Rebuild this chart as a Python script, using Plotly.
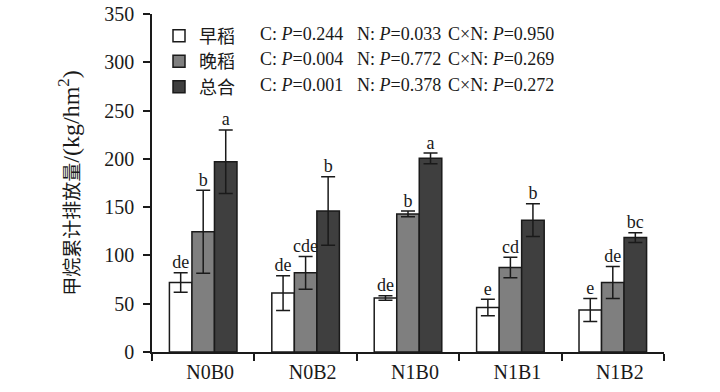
import plotly.graph_objects as go

# ---------------- data ----------------
categories = ["N0B0", "N0B2", "N1B0", "N1B1", "N1B2"]
series_names = ["早稻", "晚稻", "总合"]

early = [72, 61, 56, 46, 43.5]
early_err = [10, 18, 2.3, 8.5, 12]
early_letters = ["de", "de", "de", "e", "e"]

late = [124.5, 82, 143, 87.5, 72]
late_err = [43, 17, 3, 10.5, 16.5]
late_letters = ["b", "cde", "b", "cd", "de"]

total = [197, 146, 200.5, 136.5, 118.5]
total_err = [33, 35.5, 5.5, 17, 5]
total_letters = ["a", "b", "a", "b", "bc"]

p_C = ["0.244", "0.004", "0.001"]
p_N = ["0.033", "0.772", "0.378"]
p_CN = ["0.950", "0.269", "0.272"]

y_ticks = [0, 50, 100, 150, 200, 250, 300, 350]

# ---------------- styling ----------------
W, H = 720, 392
fills = ["#ffffff", "#7f7f7f", "#3f3f3f"]
edge = "#1a1a1a"
txt = "#1a1a1a"
serif = "Liberation Serif, Times New Roman, Noto Sans CJK SC"
bar_w = 0.22

def px_x(p):
    return p / W

def px_y(p):
    return 1 - p / H

values = [early, late, total]
errors = [early_err, late_err, total_err]
letters = [early_letters, late_letters, total_letters]

fig = go.Figure()
legend_ids = ["legend", "legend2", "legend3"]
for k in range(3):
    xs = [i + (k - 1) * bar_w for i in range(len(categories))]
    fig.add_trace(go.Bar(
        x=xs, y=values[k], width=bar_w, name=series_names[k],
        marker=dict(color=fills[k], line=dict(color=edge, width=1.5)),
        error_y=dict(type="data", array=errors[k], color=edge, thickness=1.5, width=7),
        legend=legend_ids[k], showlegend=True,
    ))
for k in range(3):
    xs = [i + (k - 1) * bar_w for i in range(len(categories))]
    tops = [v + e for v, e in zip(values[k], errors[k])]
    fig.add_trace(go.Scatter(
        x=xs, y=tops, mode="text", text=letters[k], textposition="top center",
        textfont=dict(family=serif, size=18, color=txt),
        showlegend=False, hoverinfo="skip", cliponaxis=False,
    ))

fig.update_layout(
    template="none",
    width=W, height=H, autosize=False,
    margin=dict(l=0, r=0, t=0, b=0, pad=0),
    paper_bgcolor="white", plot_bgcolor="rgba(0,0,0,0)",
    showlegend=True,
    font=dict(family=serif, size=18, color=txt),
    xaxis=dict(
        domain=[px_x(152), px_x(664)], range=[-0.5, 4.5], automargin=False,
        tickmode="array", tickvals=list(range(len(categories))), ticktext=categories,
        ticks="", ticklabelshift=7, ticklabelstandoff=1,
        tickfont=dict(family=serif, size=20, color=txt),
        showline=True, linecolor=edge, linewidth=1.5, mirror=False,
        showgrid=False, zeroline=False,
        minor=dict(tickmode="linear", tick0=-0.5, dtick=1, ticks="outside",
                   ticklen=7, tickwidth=1.5, tickcolor=edge, showgrid=False),
    ),
    yaxis=dict(
        domain=[px_y(352), px_y(14)], range=[0, 350], automargin=False,
        tickmode="array", tickvals=y_ticks,
        ticks="outside", ticklen=7, tickwidth=1.5, tickcolor=edge,
        ticklabelstandoff=5,
        tickfont=dict(family=serif, size=20, color=txt),
        showline=True, linecolor=edge, linewidth=1.5, mirror=False,
        showgrid=False, zeroline=False,
        title=dict(
            text="甲烷累计排放量<span style='font-size:24px'>/(kg/hm<sup>2</sup>)</span>",
            font=dict(family=serif, size=19, color=txt), standoff=20),
    ),
)

row_y = [36, 61.5, 87]
for k in range(3):
    fig.update_layout({legend_ids[k]: dict(
        x=px_x(159), y=px_y(row_y[k]), xanchor="left", yanchor="middle",
        bgcolor="rgba(0,0,0,0)", borderwidth=0,
        font=dict(family=serif, size=18, color=txt),
    )})

col_x = [258, 355, 446]
ann_y = [33.5, 59, 84.5]
for k in range(3):
    texts = [f"C: <i>P</i>={p_C[k]}", f"N: <i>P</i>={p_N[k]}", f"C×N: <i>P</i>={p_CN[k]}"]
    for j in range(3):
        fig.add_annotation(
            x=px_x(col_x[j]), y=px_y(ann_y[k]), xref="paper", yref="paper",
            xanchor="left", yanchor="middle", showarrow=False, text=texts[j],
            font=dict(family=serif, size=18, color=txt),
        )

fig.write_html(
    "out.html",
    config={"displayModeBar": False},
    post_script="document.body.style.margin='0';document.body.style.overflow='hidden';",
)
